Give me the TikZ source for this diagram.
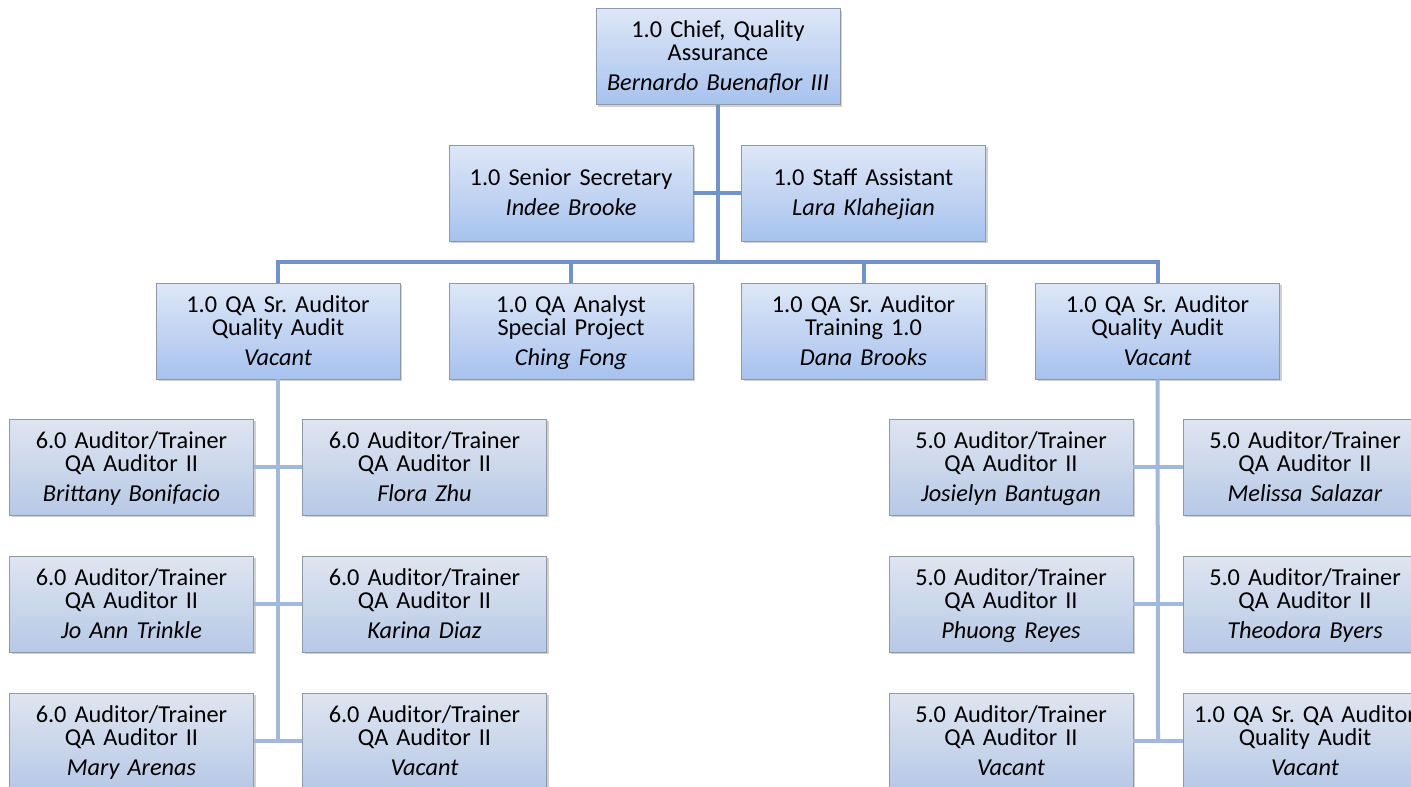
\documentclass[tikz,border=0pt]{standalone}
\usepackage{fontspec}
\setmainfont{Carlito}
\usepackage{tikz}
\usetikzlibrary{positioning, shadows}
\frenchspacing
\definecolor{headtop}  {HTML}{DEE7F7}
\definecolor{headbot}  {HTML}{A7C2EE}
\definecolor{subtop}   {HTML}{DFE5F0}
\definecolor{subbot}   {HTML}{B7C9E6}
\definecolor{edgegray} {HTML}{8F98A6}
\definecolor{linkblue} {HTML}{6F94C9}
\definecolor{linklight}{HTML}{A2B9DD}

\begin{document}
\begin{tikzpicture}[
    x=1pt, y=-1pt,
    post/.style={draw=edgegray, line width=0.8pt,
                 top color=headtop, bottom color=headbot,
                 minimum width=244pt, minimum height=96pt,
                 text width=240pt, align=center, inner sep=2pt,
                 font=\fontsize{24.3}{23}\selectfont,
                 execute at begin node={\rule{0pt}{21pt}},
                 execute at end node={\rule[-6pt]{0pt}{6pt}},
                 drop shadow={shadow xshift=2pt, shadow yshift=-2pt,
                              opacity=0.3, fill=black!60}},
    subpost/.style={post, top color=subtop, bottom color=subbot},
    link/.style={draw=linkblue, line width=4pt},
    sublink/.style={draw=linklight, line width=4pt},
  ]
    \useasboundingbox (0,0) rectangle (1411,787);
    \clip (0,0) rectangle (1411,787);

    % Head and staff
    \node[post] (chief) at (718,56.5)
      {1.0 Chief, Quality\\Assurance\\[7pt]\textit{Bernardo Buenaflor III}};
    \node[post] (secy) at (571,193)
      {1.0 Senior Secretary\\[7pt]\textit{Indee Brooke}};
    \node[post] (asst) at (863.5,193)
      {1.0 Staff Assistant\\[7pt]\textit{Lara Klahejian}};

    % Second row
    \node[post] (sraudl) at (278,331)
      {1.0 QA Sr. Auditor\\Quality Audit\\[7pt]\textit{Vacant}};
    \node[post] (analyst) at (571,331)
      {1.0 QA Analyst\\Special Project\\[7pt]\textit{Ching Fong}};
    \node[post] (trainer) at (863.5,331)
      {1.0 QA Sr. Auditor\\Training 1.0\\[7pt]\textit{Dana Brooks}};
    \node[post] (sraudr) at (1157.5,331)
      {1.0 QA Sr. Auditor\\Quality Audit\\[7pt]\textit{Vacant}};

    % Left team
    \node[subpost] (bonif) at (131.5,467)
      {6.0 Auditor/Trainer\\QA Auditor II\\[7pt]\textit{Brittany Bonifacio}};
    \node[subpost] (zhu) at (424.5,467)
      {6.0 Auditor/Trainer\\QA Auditor II\\[7pt]\textit{Flora Zhu}};
    \node[subpost] (trinkle) at (131.5,604)
      {6.0 Auditor/Trainer\\QA Auditor II\\[7pt]\textit{Jo Ann Trinkle}};
    \node[subpost] (diaz) at (424.5,604)
      {6.0 Auditor/Trainer\\QA Auditor II\\[7pt]\textit{Karina Diaz}};
    \node[subpost] (arenas) at (131.5,741)
      {6.0 Auditor/Trainer\\QA Auditor II\\[7pt]\textit{Mary Arenas}};
    \node[subpost] (vacl) at (424.5,741)
      {6.0 Auditor/Trainer\\QA Auditor II\\[7pt]\textit{Vacant}};

    % Right team
    \node[subpost] (bant) at (1011,467)
      {5.0 Auditor/Trainer\\QA Auditor II\\[7pt]\textit{Josielyn Bantugan}};
    \node[subpost] (salaz) at (1305,467)
      {5.0 Auditor/Trainer\\QA Auditor II\\[7pt]\textit{Melissa Salazar}};
    \node[subpost] (reyes) at (1011,604)
      {5.0 Auditor/Trainer\\QA Auditor II\\[7pt]\textit{Phuong Reyes}};
    \node[subpost] (byers) at (1305,604)
      {5.0 Auditor/Trainer\\QA Auditor II\\[7pt]\textit{Theodora Byers}};
    \node[subpost] (vacr) at (1011,741)
      {5.0 Auditor/Trainer\\QA Auditor II\\[7pt]\textit{Vacant}};
    \node[subpost] (srqa) at (1305,741)
      {1.0 QA Sr. QA Auditor\\Quality Audit\\[7pt]\textit{Vacant}};

    \coordinate (hub)   at (718,262);
    \coordinate (lfoot) at (278,741);
    \coordinate (rfoot) at (1158,741);

    \draw[link] (chief) -- (hub);
    \draw[link] (secy) -- (asst);
    \draw[link] (sraudl) |- (hub) -| (sraudr);
    \draw[link] (analyst) -- (analyst |- hub);
    \draw[link] (trainer) -- (trainer |- hub);

    \draw[sublink] (sraudl) -- (lfoot);
    \draw[sublink] (bonif)   -- (zhu);
    \draw[sublink] (trinkle) -- (diaz);
    \draw[sublink] (arenas)  -- (vacl);

    \draw[sublink] (sraudr) -- (rfoot);
    \draw[sublink] (bant)  -- (salaz);
    \draw[sublink] (reyes) -- (byers);
    \draw[sublink] (vacr)  -- (srqa);
  \end{tikzpicture}
\end{document}
